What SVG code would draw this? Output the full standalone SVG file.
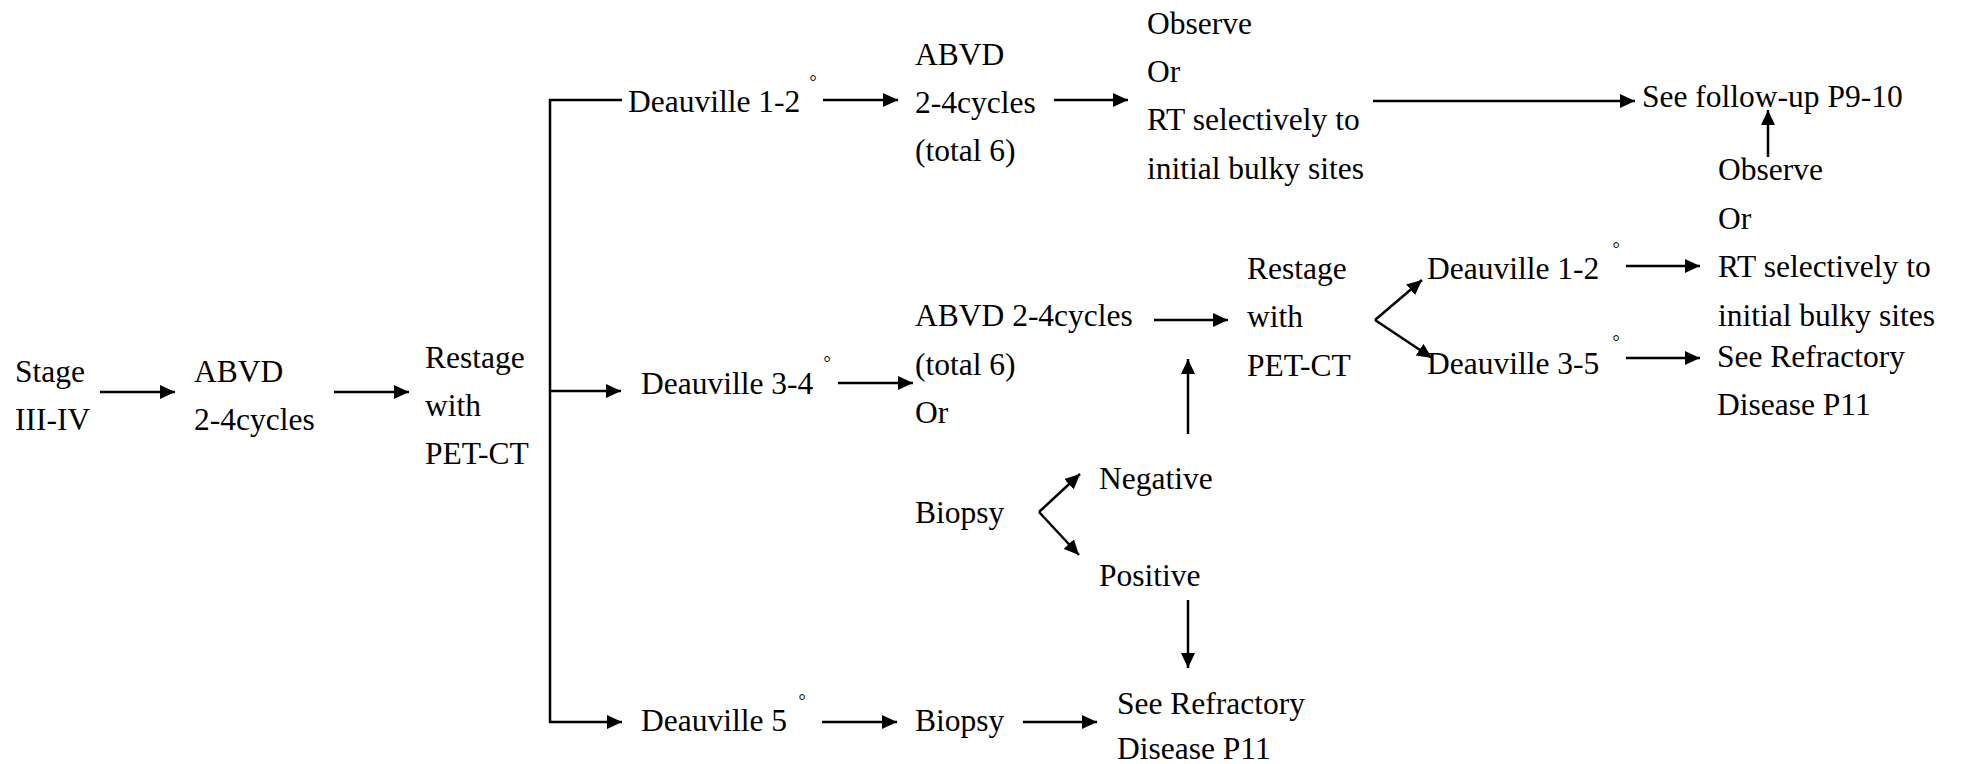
<svg xmlns="http://www.w3.org/2000/svg" width="1961" height="764" viewBox="0 0 1961 764" font-family="'Liberation Serif', 'Times New Roman', serif">
<defs>
<marker id="ah" markerUnits="userSpaceOnUse" markerWidth="16" markerHeight="14" refX="15" refY="7" orient="auto">
<path d="M0,0 L15,7 L0,14 z" fill="#000"/>
</marker>
<style>
text{font-family:'Liberation Serif','Times New Roman',serif;font-size:31.5px;fill:#000}
.deg{font-size:18px;text-anchor:middle}
.c line,.c polyline{stroke:#000;stroke-width:2.5;fill:none}
.a{marker-end:url(#ah)}
</style>
</defs>
<rect width="1961" height="764" fill="#fff"/>
<g class="c" id="connectors">
<line class="a" x1="100" y1="392" x2="175" y2="392"/>
<line class="a" x1="334" y1="392" x2="409" y2="392"/>
<polyline class="a" points="622,100 550,100 550,722 622,722"/>
<line class="a" x1="550" y1="391" x2="621" y2="391"/>
<line class="a" x1="823" y1="100" x2="898" y2="100"/>
<line class="a" x1="1054" y1="100" x2="1128" y2="100"/>
<line class="a" x1="1373" y1="101" x2="1635" y2="101"/>
<line class="a" x1="1768" y1="157" x2="1768" y2="110"/>
<line class="a" x1="838" y1="383" x2="913" y2="383"/>
<line class="a" x1="1154" y1="320" x2="1228" y2="320"/>
<line class="a" x1="1375" y1="320" x2="1422" y2="280"/>
<line class="a" x1="1375" y1="320" x2="1432" y2="358"/>
<line class="a" x1="1626" y1="266" x2="1700" y2="266"/>
<line class="a" x1="1626" y1="358" x2="1700" y2="358"/>
<line class="a" x1="1188" y1="434" x2="1188" y2="359"/>
<line class="a" x1="1039" y1="512" x2="1080" y2="474"/>
<line class="a" x1="1039" y1="512" x2="1079" y2="555"/>
<line class="a" x1="1188" y1="600" x2="1188" y2="668"/>
<line class="a" x1="822" y1="722" x2="897" y2="722"/>
<line class="a" x1="1023" y1="722" x2="1097" y2="722"/>
</g>
<g id="n-stage"><text x="15" y="382">Stage</text><text x="15" y="430">III-IV</text></g>
<g id="n-abvd1"><text x="194" y="382">ABVD</text><text x="194" y="430">2-4cycles</text></g>
<g id="n-restage1"><text x="425" y="368">Restage</text><text x="425" y="416">with</text><text x="425" y="464">PET-CT</text></g>
<g id="n-d12"><text x="628" y="112">Deauville 1-2</text><text class="deg" x="813" y="88">°</text></g>
<g id="n-abvd2"><text x="915" y="65">ABVD</text><text x="915" y="113">2-4cycles</text><text x="915" y="161">(total 6)</text></g>
<g id="n-observe1"><text x="1147" y="34">Observe</text><text x="1147" y="82">Or</text><text x="1147" y="130">RT selectively to</text><text x="1147" y="179">initial bulky sites</text></g>
<g id="n-followup"><text x="1642" y="107">See follow-up P9-10</text></g>
<g id="n-observe2"><text x="1718" y="180">Observe</text><text x="1718" y="229">Or</text><text x="1718" y="277">RT selectively to</text><text x="1718" y="326">initial bulky sites</text></g>
<g id="n-d34"><text x="641" y="394">Deauville 3-4</text><text class="deg" x="827" y="369">°</text></g>
<g id="n-abvd3"><text x="915" y="326">ABVD 2-4cycles</text><text x="915" y="375">(total 6)</text><text x="915" y="423">Or</text></g>
<g id="n-restage2"><text x="1247" y="279">Restage</text><text x="1247" y="327">with</text><text x="1247" y="376">PET-CT</text></g>
<g id="n-d12b"><text x="1427" y="279">Deauville 1-2</text><text class="deg" x="1616" y="255">°</text></g>
<g id="n-d35"><text x="1427" y="374">Deauville 3-5</text><text class="deg" x="1616" y="348">°</text></g>
<g id="n-refr1"><text x="1717" y="367">See Refractory</text><text x="1717" y="415">Disease P11</text></g>
<g id="n-biopsy1"><text x="915" y="523">Biopsy</text></g>
<g id="n-neg"><text x="1099" y="489">Negative</text></g>
<g id="n-pos"><text x="1099" y="586">Positive</text></g>
<g id="n-d5"><text x="641" y="731">Deauville 5</text><text class="deg" x="802" y="707">°</text></g>
<g id="n-biopsy2"><text x="915" y="731">Biopsy</text></g>
<g id="n-refr2"><text x="1117" y="714">See Refractory</text><text x="1117" y="759">Disease P11</text></g>
</svg>
